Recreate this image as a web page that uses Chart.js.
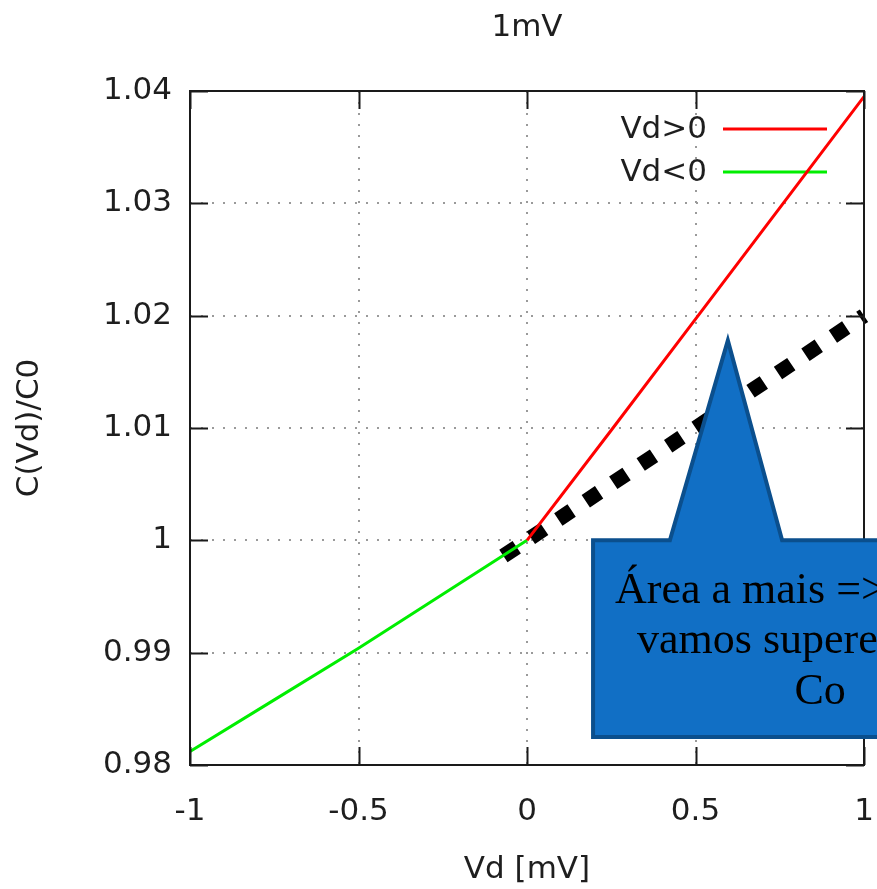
<!DOCTYPE html>
<html>
<head>
<meta charset="utf-8">
<script src="https://cdn.jsdelivr.net/npm/chart.js@4/dist/chart.umd.min.js"></script>
<style>
  html, body { margin: 0; padding: 0; background: #ffffff; }
  #c { display: block; }
</style>
</head>
<body>
<canvas id="c" width="877" height="889"></canvas>
<script>
// ---- data ----
const vdPos = [0, 0.25, 0.5, 0.75, 1];
const cPos  = [1.0, 1.0098, 1.0197, 1.0296, 1.0395];
const vdNeg = [-1, -0.75, -0.5, -0.25, 0];
const cNeg  = [0.9812, 0.9858, 0.9904, 0.9952, 1.0];
const vdTan = [-0.07, 1.0];
const cTan  = [0.9986, 1.02];
const seriesLabels = ['Vd>0', 'Vd<0'];
const xTicks = [-1, -0.5, 0, 0.5, 1];
const yTicks = [0.98, 0.99, 1, 1.01, 1.02, 1.03, 1.04];
const chartTitle = '1mV';
const calloutLines = ['Área a mais =>', 'vamos superestimar', 'Co'];
// callout geometry in data units (x = Vd, y = C/C0)
const calloutBox = { x0: 0.196, x1: 1.1, y0: 0.9825, y1: 1.0 };
const calloutTip = { xl: 0.424, xr: 0.757, xa: 0.596, ya: 1.0178 };

const FONT = '"DejaVu Sans", sans-serif';
const TXT = '#1e1e1e';

function pts(xs, ys) { return xs.map((x, i) => ({ x: x, y: ys[i] })); }
function fmt(v) { return String(+(+v).toFixed(2)); }

const titlePlugin = {
  id: 'titlePlugin',
  afterDraw(chart) {
    const { ctx, chartArea: a } = chart;
    ctx.save();
    ctx.font = '31px ' + FONT;
    ctx.fillStyle = TXT;
    ctx.textAlign = 'center';
    ctx.textBaseline = 'middle';
    ctx.fillText(chartTitle, (a.left + a.right) / 2, 28);
    ctx.restore();
  }
};

const frameTicks = {
  id: 'frameTicks',
  afterDraw(chart) {
    const { ctx, chartArea: a, scales: { x, y } } = chart;
    ctx.save();
    ctx.strokeStyle = '#1a1a1a';
    ctx.lineWidth = 2;
    ctx.beginPath();
    ctx.rect(a.left, a.top, a.right - a.left, a.bottom - a.top);
    ctx.stroke();
    const L = 18;
    ctx.beginPath();
    xTicks.forEach(v => {
      const px = Math.round(x.getPixelForValue(v)) + 0.5;
      ctx.moveTo(px, a.bottom); ctx.lineTo(px, a.bottom - L);
      ctx.moveTo(px, a.top); ctx.lineTo(px, a.top + L);
    });
    yTicks.forEach(v => {
      const py = Math.round(y.getPixelForValue(v)) + 0.5;
      ctx.moveTo(a.left, py); ctx.lineTo(a.left + L, py);
      ctx.moveTo(a.right, py); ctx.lineTo(a.right - L, py);
    });
    ctx.stroke();
    ctx.restore();
  }
};

const keyPlugin = {
  id: 'keyPlugin',
  beforeDatasetsDraw(chart) {
    const { ctx, chartArea: a } = chart;
    ctx.save();
    ctx.font = '31px ' + FONT;
    ctx.textAlign = 'right';
    ctx.textBaseline = 'middle';
    [0, 1].forEach(i => {
      const ds = chart.data.datasets[i];
      const yy = a.top + 38 + i * 43;
      ctx.fillStyle = TXT;
      ctx.fillText(ds.label, a.right - 157, yy + 1);
      ctx.strokeStyle = ds.borderColor;
      ctx.lineWidth = 3;
      ctx.beginPath();
      ctx.moveTo(a.right - 141, yy);
      ctx.lineTo(a.right - 37, yy);
      ctx.stroke();
    });
    ctx.restore();
  }
};

const calloutPlugin = {
  id: 'calloutPlugin',
  afterDraw(chart) {
    const { ctx, scales: { x, y } } = chart;
    const bx0 = x.getPixelForValue(calloutBox.x0), bx1 = x.getPixelForValue(calloutBox.x1);
    const by0 = y.getPixelForValue(calloutBox.y0), by1 = y.getPixelForValue(calloutBox.y1);
    const tl = x.getPixelForValue(calloutTip.xl), tr = x.getPixelForValue(calloutTip.xr);
    const ax = x.getPixelForValue(calloutTip.xa), ay = y.getPixelForValue(calloutTip.ya);
    ctx.save();
    ctx.beginPath();
    ctx.moveTo(bx0, by1);
    ctx.lineTo(tl, by1);
    ctx.lineTo(ax, ay);
    ctx.lineTo(tr, by1);
    ctx.lineTo(bx1, by1);
    ctx.lineTo(bx1, by0);
    ctx.lineTo(bx0, by0);
    ctx.closePath();
    ctx.fillStyle = '#116fc5';
    ctx.fill();
    ctx.lineJoin = 'miter';
    ctx.strokeStyle = '#0b4f8d';
    ctx.lineWidth = 4;
    ctx.stroke();
    ctx.fillStyle = '#000000';
    ctx.font = '44px "Liberation Serif", serif';
    ctx.textBaseline = 'alphabetic';
    ctx.textAlign = 'left';
    ctx.fillText(calloutLines[0], bx0 + 22, by1 + 63);
    ctx.fillText(calloutLines[1], bx0 + 44, by1 + 113);
    ctx.textAlign = 'center';
    ctx.fillText(calloutLines[2], bx0 + 227, by1 + 164);
    ctx.restore();
  }
};

const gridColor = (ends) => (c) => {
  const v = c.tick ? c.tick.value : null;
  if (v === null) return 'rgba(0,0,0,0)';
  return ends.some(e => Math.abs(e - v) < 1e-9) ? 'rgba(0,0,0,0)' : '#9a9a9a';
};

new Chart(document.getElementById('c'), {
  type: 'line',
  data: {
    datasets: [
      { label: seriesLabels[0], data: pts(vdPos, cPos), borderColor: '#ff0000', borderWidth: 3,
        pointRadius: 0, tension: 0, fill: false },
      { label: seriesLabels[1], data: pts(vdNeg, cNeg), borderColor: '#00ee00', borderWidth: 3,
        pointRadius: 0, tension: 0, fill: false },
      { label: 'tangent', data: pts(vdTan, cTan), borderColor: '#000000', borderWidth: 15,
        borderDash: [16, 17], borderCapStyle: 'butt', pointRadius: 0, tension: 0, fill: false, clip: 8 }
    ]
  },
  options: {
    responsive: false,
    devicePixelRatio: 1,
    animation: false,
    layout: { padding: { left: 0, right: 13, top: 91, bottom: 0 } },
    plugins: {
      legend: { display: false },
      tooltip: { enabled: false },
      title: { display: false }
    },
    scales: {
      x: {
        type: 'linear', min: -1, max: 1,
        afterBuildTicks: (s) => { s.ticks = xTicks.map(v => ({ value: v })); },
        afterFit: (s) => { s.height = 124; s.paddingLeft = 0; s.paddingRight = 0; },
        ticks: { color: TXT, font: { family: FONT, size: 31 }, padding: 28, maxRotation: 0,
                 callback: (v) => fmt(v) },
        grid: { color: gridColor([-1, 1]), lineWidth: 2, drawTicks: false },
        border: { display: false, dash: [2, 9] },
        title: { display: true, text: 'Vd [mV]', color: TXT,
                 font: { family: FONT, size: 31 }, padding: { top: 0, bottom: 0 } }
      },
      y: {
        type: 'linear', min: 0.98, max: 1.04,
        afterBuildTicks: (s) => { s.ticks = yTicks.map(v => ({ value: v })); },
        afterFit: (s) => { s.width = 190; s.paddingTop = 0; s.paddingBottom = 0; },
        ticks: { color: TXT, font: { family: FONT, size: 31 }, padding: 18,
                 callback: (v) => fmt(v) },
        grid: { color: gridColor([0.98, 1.04]), lineWidth: 2, drawTicks: false },
        border: { display: false, dash: [2, 9] },
        title: { display: true, text: 'C(Vd)/C0', color: TXT,
                 font: { family: FONT, size: 31 }, padding: { top: 11, bottom: 0 } }
      }
    }
  },
  plugins: [keyPlugin, frameTicks, calloutPlugin, titlePlugin]
});
</script>
</body>
</html>
